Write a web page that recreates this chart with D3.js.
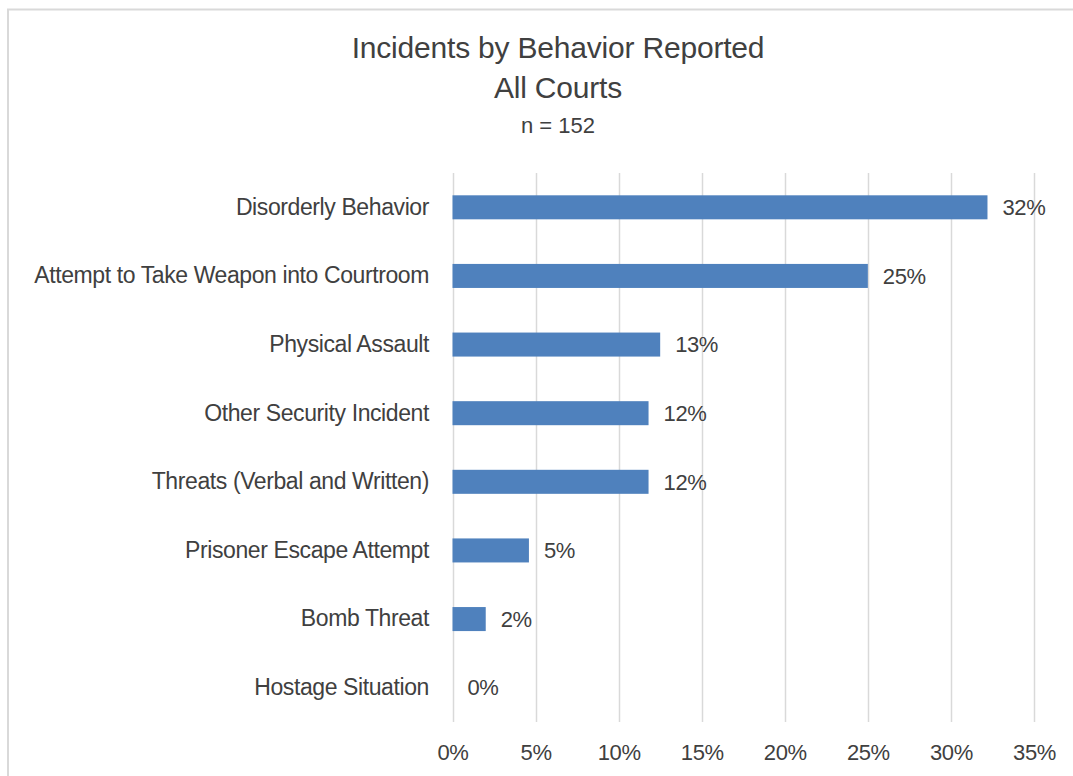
<!DOCTYPE html>
<html>
<head>
<meta charset="utf-8">
<script src="https://cdn.jsdelivr.net/npm/d3@7"></script>
<style>
  html, body { margin: 0; padding: 0; background: #fff; }
  svg { display: block; }
  text { font-family: "Liberation Sans", Arial, sans-serif; fill: #404040; }
</style>
</head>
<body>
<svg id="chart" width="1073" height="776"></svg>
<script>
const titleLines = ["Incidents by Behavior Reported", "All Courts"];
const subtitle = "n = 152";
const categories = [
  "Disorderly Behavior",
  "Attempt to Take Weapon into Courtroom",
  "Physical Assault",
  "Other Security Incident",
  "Threats (Verbal and Written)",
  "Prisoner Escape Attempt",
  "Bomb Threat",
  "Hostage Situation"
];
const values = [0.322, 0.250, 0.125, 0.118, 0.118, 0.046, 0.020, 0.000];
const labels = ["32%", "25%", "13%", "12%", "12%", "5%", "2%", "0%"];
const xTicks = [0, 0.05, 0.10, 0.15, 0.20, 0.25, 0.30, 0.35];

(function () {
const svg = d3.select("#chart");
const W = 1073, H = 776;
const FF = "'Liberation Sans', Arial, sans-serif";

// chart border
svg.append("rect")
  .attr("x", 8).attr("y", 9.5)
  .attr("width", W + 10).attr("height", H + 10)
  .attr("fill", "#fff").attr("stroke", "#d9d9d9").attr("stroke-width", 2);

const pLeft = 452.5, pRight = 1034, pTop = 173, pBottom = 722;

const x = d3.scaleLinear().domain([0, 0.35]).range([pLeft, pRight]);
const y = d3.scaleBand().domain(categories).range([pTop, pBottom]).paddingInner(0.65).paddingOuter(0.325);

// gridlines
svg.append("g").selectAll("line").data(xTicks).join("line")
  .attr("x1", d => Math.round(x(d)) + 0.5).attr("x2", d => Math.round(x(d)) + 0.5)
  .attr("y1", pTop).attr("y2", pBottom)
  .attr("stroke", "#d9d9d9").attr("stroke-width", 1.5);

// x axis labels
const xAxis = d3.axisBottom(x).tickValues(xTicks).tickFormat(d3.format(".0%")).tickSize(0).tickPadding(0);
const gx = svg.append("g").attr("transform", `translate(0,${pBottom + 22})`).call(xAxis);
gx.select(".domain").remove();
gx.selectAll("text")
  .attr("font-size", 22).attr("fill", "#404040").attr("letter-spacing", "-0.4")
  .attr("dy", "0.35em").attr("y", 8)
  .style("font-family", FF);

// y axis labels
const yAxis = d3.axisLeft(y).tickSize(0).tickPadding(0);
const gy = svg.append("g").attr("transform", `translate(429,0)`).call(yAxis);
gy.select(".domain").remove();
gy.selectAll("text")
  .attr("font-size", 23).attr("fill", "#404040").attr("letter-spacing", "-0.4")
  .style("font-family", FF);

// bars
svg.append("g").selectAll("rect").data(values).join("rect")
  .attr("x", x(0))
  .attr("y", (d, i) => y(categories[i]))
  .attr("width", d => x(d) - x(0))
  .attr("height", y.bandwidth())
  .attr("fill", "#4f81bd");

// data labels
svg.append("g").selectAll("text").data(values).join("text")
  .attr("x", d => x(d) + 15)
  .attr("y", (d, i) => y(categories[i]) + y.bandwidth() / 2)
  .attr("dy", "0.35em")
  .attr("font-size", 22).attr("letter-spacing", "-0.4")
  .text((d, i) => labels[i]);

// titles
const cx = 558;
svg.append("text").attr("x", cx).attr("y", 58).attr("text-anchor", "middle")
  .attr("font-size", 30).attr("letter-spacing", "-0.2").text(titleLines[0]);
svg.append("text").attr("x", cx).attr("y", 98).attr("text-anchor", "middle")
  .attr("font-size", 30).attr("letter-spacing", "-0.2").text(titleLines[1]);
svg.append("text").attr("x", cx).attr("y", 133).attr("text-anchor", "middle")
  .attr("font-size", 22).text(subtitle);
})();
</script>
</body>
</html>
